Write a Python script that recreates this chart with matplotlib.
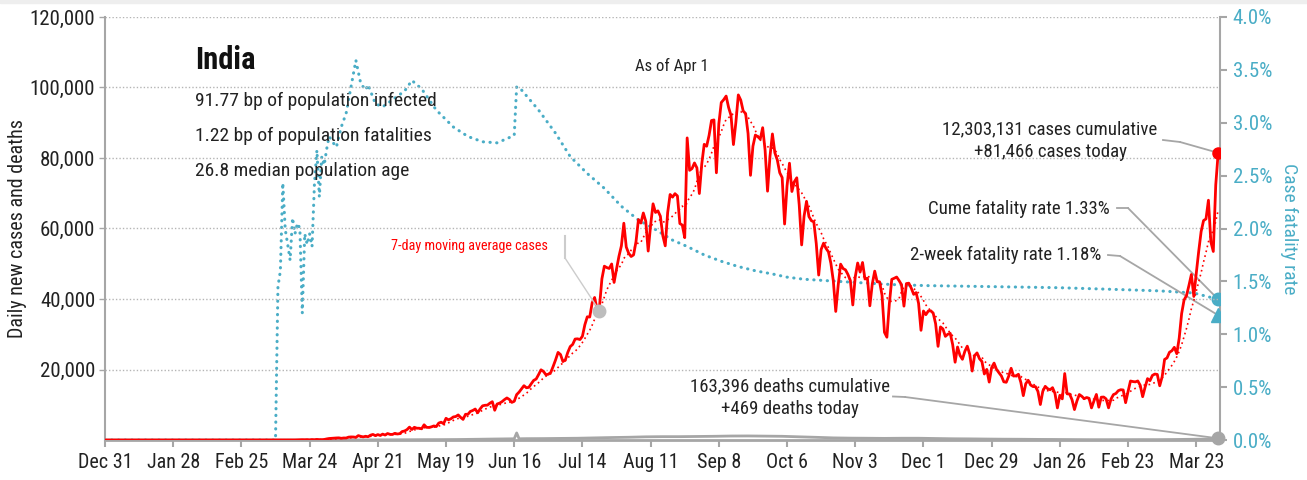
import matplotlib
matplotlib.use("Agg")
import matplotlib.pyplot as plt
from matplotlib.patches import Rectangle
from matplotlib import font_manager
import numpy as np
import pandas as pd

# pick the narrowest sans that is around
available = {f.name for f in font_manager.fontManager.ttflist}
families = [f for f in ['Roboto Condensed', 'Liberation Sans Narrow', 'DejaVu Sans Condensed',
                        'Open Sans Condensed', 'Roboto', 'DejaVu Sans'] if f in available]
plt.rcParams['font.family'] = families
plt.rcParams['font.stretch'] = 'condensed'

RED = '#ff0000'
TEAL = '#4aadc6'
GRAY = '#a6a6a6'
TXT = '#222222'

# daily new cases, India (one list per month, starting 2020-03-01)
cases_2020_03 = [0, 2, 1, 22, 2, 1, 3, 5, 4, 13, 6, 11, 9, 20, 11, 6, 23, 14, 38, 50, 86, 66, 103, 37,
                 121, 70, 160, 100, 82, 155, 306]
cases_2020_04 = [424, 486, 560, 579, 609, 484, 573, 565, 813, 871, 854, 758, 1243, 1031, 886, 1061, 922,
                 1371, 1580, 1239, 1537, 1292, 1667, 1408, 1835, 1607, 1568, 1902, 1705, 1801]
cases_2020_05 = [2396, 2564, 2952, 3656, 2971, 3602, 3344, 3339, 3175, 4311, 3592, 3562, 3726, 3991, 3808,
                 4794, 5050, 4628, 6154, 5720, 6023, 6536, 6667, 7111, 6414, 5843, 7293, 7300, 8105, 8380, 8789]
cases_2020_06 = [7723, 8812, 9689, 9849, 9887, 10438, 10864, 8442, 10218, 10459, 10885, 11458, 11929, 11502,
                 10667, 10974, 12881, 13586, 14516, 15413, 14821, 14933, 15968, 16922, 17296, 18552, 19906,
                 19459, 18522, 18653]
cases_2020_07 = [19148, 20903, 22771, 24850, 24248, 22252, 22752, 24879, 26506, 27114, 28637, 28701, 28498,
                 29429, 32695, 34956, 34884, 38902, 40425, 37148, 37724, 45720, 49310, 48916, 48661, 49931,
                 44700, 48513, 52123, 55079, 61500]
cases_2020_08 = [54735, 52972, 52050, 52509, 56282, 62538, 61537, 64399, 62064, 53601, 60963, 66999, 64553,
                 65002, 63490, 57981, 55079, 64531, 69652, 68898, 69878, 69239, 61408, 60975, 57400, 85700,
                 76500, 77000, 78600, 77200, 69921]
cases_2020_09 = [78357, 83883, 83341, 86432, 90632, 90802, 75809, 89706, 95735, 96551, 97570, 94372, 92071,
                 83809, 90123, 97894, 96424, 93337, 92605, 86961, 75083, 83347, 86508, 86052, 85362, 88600,
                 82170, 70589, 80472, 86821]
cases_2020_10 = [81484, 79476, 75829, 74442, 61267, 72049, 78524, 70496, 73272, 74383, 66732, 55342, 63509,
                 67708, 63371, 62212, 61871, 55722, 46790, 54044, 55839, 54366, 53370, 50129, 45148, 36469,
                 43893, 49881, 48648, 48268, 46963]
cases_2020_11 = [45231, 38310, 46253, 50210, 47638, 50357, 45674, 45903, 38073, 44281, 47905, 44879, 44878,
                 41100, 30548, 29164, 38617, 45576, 45882, 46232, 45209, 44059, 37975, 44376, 44489, 43082,
                 41322, 41810, 38772, 31118]
cases_2020_12 = [36604, 35551, 36595, 36652, 36011, 32981, 26567, 32080, 31522, 29398, 30006, 30254, 27071,
                 22065, 26382, 24010, 22890, 25152, 26624, 24337, 19556, 23950, 24712, 23067, 22273, 18732,
                 20021, 16432, 20550, 21822, 20035]
cases_2021_01 = [19079, 18177, 16505, 16375, 18088, 20346, 18139, 18222, 18645, 16311, 12584, 15968, 16946,
                 15590, 15158, 15144, 13788, 10064, 13823, 15223, 14545, 14256, 14849, 13203, 9102, 12689,
                 11666, 18855, 13083, 13052, 11427]
cases_2021_02 = [8635, 11039, 12899, 12408, 11713, 12059, 11831, 9110, 11067, 12923, 9309, 12143, 12194,
                 11649, 9121, 11610, 12881, 13193, 13993, 14264, 14199, 10584, 13742, 16738, 16577, 16488,
                 16752, 15510]
cases_2021_03 = [12286, 14989, 17407, 16838, 18327, 18711, 18599, 15388, 17921, 22854, 23285, 24882, 25320,
                 26291, 24492, 28903, 35871, 39726, 40953, 43846, 46951, 40715, 47262, 53476, 59118, 62258,
                 62714, 68020, 56211, 53480, 72330]
cases_2021_04 = [81466]

# daily deaths, sampled weekly from 2020-03-01, plus a few single days
deaths_weekly = [0, 0, 1, 3, 6,
                 15, 30, 40, 55,
                 75, 100, 110, 140, 200,
                 270, 330, 380, 400,
                 450, 500, 600, 700,
                 780, 900, 950, 950, 1000,
                 1050, 1130, 1150, 1100,
                 1050, 900, 760, 600,
                 530, 500, 460, 500, 500,
                 420, 350, 320, 270,
                 230, 210, 170, 150, 120,
                 95, 95, 100, 110,
                 105, 140, 200, 280]
deaths_extra_dates = ['2019-12-31', '2020-06-16', '2020-06-17', '2020-06-18', '2021-04-01']
deaths_extra = [0, 350, 2003, 350, 469]

# case fatality rate (%)
cfr_dates = ['2019-12-31', '2020-03-10', '2020-03-11', '2020-03-12', '2020-03-13', '2020-03-14',
             '2020-03-15', '2020-03-16', '2020-03-17', '2020-03-18', '2020-03-19', '2020-03-20',
             '2020-03-21', '2020-03-22', '2020-03-23', '2020-03-24', '2020-03-25', '2020-03-26',
             '2020-03-27', '2020-03-28', '2020-03-29', '2020-03-30', '2020-03-31', '2020-04-01',
             '2020-04-03', '2020-04-04', '2020-04-06', '2020-04-08', '2020-04-10', '2020-04-12',
             '2020-04-14', '2020-04-16', '2020-04-17', '2020-04-20', '2020-04-23', '2020-04-26',
             '2020-04-29', '2020-05-02', '2020-05-05', '2020-05-09', '2020-05-15', '2020-05-22',
             '2020-05-28', '2020-06-03', '2020-06-09', '2020-06-16', '2020-06-17', '2020-06-19',
             '2020-06-26', '2020-07-03', '2020-07-09', '2020-07-16', '2020-07-23', '2020-07-30',
             '2020-08-06', '2020-08-13', '2020-08-20', '2020-08-26', '2020-09-02', '2020-09-09',
             '2020-09-16', '2020-09-23', '2020-09-30', '2020-10-06', '2020-10-13', '2020-10-20',
             '2020-10-27', '2020-11-03', '2020-11-18', '2020-12-02', '2020-12-30', '2021-01-26',
             '2021-02-23', '2021-03-08', '2021-03-22', '2021-04-01']
cfr_values = [0, 0, 1.45, 1.6, 2.43, 1.99, 1.85, 1.70, 2.1, 1.95, 2.05, 2.0,
              1.2, 1.95, 1.85, 1.95, 1.83, 2.43, 2.74, 2.3, 2.68, 2.6, 2.75, 2.87,
              2.8, 2.77, 2.96, 3.09, 3.34, 3.59, 3.37, 3.31, 3.36, 3.18, 3.15, 3.2,
              3.25, 3.3, 3.40, 3.32, 3.12, 2.96, 2.87, 2.82, 2.81, 2.88, 3.34, 3.31,
              3.12, 2.90, 2.68, 2.52, 2.38, 2.21, 2.08, 1.99, 1.89, 1.83, 1.75, 1.69,
              1.64, 1.60, 1.57, 1.54, 1.52, 1.51, 1.50, 1.49, 1.47, 1.46, 1.45, 1.44,
              1.42, 1.41, 1.39, 1.33]

cfr_cume_today = 1.33
cfr_2week = 1.18
cases_cum = 12303131
deaths_cum = 163396

tick_labels = ['Dec 31', 'Jan 28', 'Feb 25', 'Mar 24', 'Apr 21', 'May 19', 'Jun 16', 'Jul 14',
               'Aug 11', 'Sep 8', 'Oct 6', 'Nov 3', 'Dec 1', 'Dec 29', 'Jan 26', 'Feb 23', 'Mar 23']

# ---- build series ----
all_cases = (cases_2020_03 + cases_2020_04 + cases_2020_05 + cases_2020_06 + cases_2020_07 +
             cases_2020_08 + cases_2020_09 + cases_2020_10 + cases_2020_11 + cases_2020_12 +
             cases_2021_01 + cases_2021_02 + cases_2021_03 + cases_2021_04)
cases = pd.Series(all_cases, index=pd.date_range('2020-03-01', periods=len(all_cases), freq='D'))
full_idx = pd.date_range('2019-12-31', cases.index[-1], freq='D')
cases = cases.reindex(full_idx, fill_value=0)
ma7 = cases.rolling(7, min_periods=1).mean()

deaths = pd.concat([
    pd.Series(deaths_weekly, index=pd.date_range('2020-03-01', periods=len(deaths_weekly), freq='7D')),
    pd.Series(deaths_extra, index=pd.to_datetime(deaths_extra_dates)),
]).sort_index()

cfr = pd.Series(cfr_values, index=pd.to_datetime(cfr_dates))
last = cases.index[-1]

# ---- figure ----
fig = plt.figure(figsize=(13.07, 4.80), dpi=100)
fig.patches.append(Rectangle((0, 1 - 3 / 480), 1, 3 / 480, transform=fig.transFigure,
                             color='#eeeeee', zorder=0))
ax = fig.add_axes([105 / 1307, 40 / 480, 1115 / 1307, 423 / 480])
ax2 = ax.twinx()
ax.set_zorder(ax2.get_zorder() + 1)
ax.patch.set_visible(False)

# fatality rate on the right axis
ax2.plot(cfr.index, cfr.values / 100, color=TEAL, lw=2.2, linestyle=(0, (0.1, 2.1)),
         dash_capstyle='round', zorder=2)
ax2.plot([last], [cfr_cume_today / 100], 'o', color=TEAL, ms=9, zorder=4)
ax2.plot([last], [cfr_2week / 100], '^', color=TEAL, ms=10, zorder=4)

# cases and deaths on the left axis
ax.plot(deaths.index, deaths.values, color=GRAY, lw=2, zorder=2)
ax.plot(cases.index, cases.values, color=RED, lw=2, zorder=3)
ax.plot(ma7.index, ma7.values, color=RED, lw=1.2, linestyle=(0, (1, 2)), zorder=3)
ax.plot([last], [cases.iloc[-1]], 'o', color=RED, ms=8, zorder=5)
ax.plot([last], [deaths.iloc[-1]], 'o', color=GRAY, ms=9, zorder=5, clip_on=False)

x0 = pd.Timestamp('2019-12-31')
ax.set_xlim(x0, last + pd.Timedelta(hours=18))
ax.set_ylim(0, 120000)
ax2.set_ylim(0, 0.04)

ticks = pd.date_range(x0, periods=len(tick_labels), freq='28D')
ax.set_xticks(ticks)
ax.set_xticklabels(tick_labels)
ax.set_yticks(np.arange(20000, 120001, 20000))
ax.yaxis.set_major_formatter(matplotlib.ticker.FuncFormatter(lambda v, p: f'{v:,.0f}'))
ax2.set_yticks(np.arange(0, 0.0401, 0.005))
ax2.yaxis.set_major_formatter(matplotlib.ticker.FuncFormatter(lambda v, p: f'{v * 100:.1f}%'))

ax.grid(axis='y', color='#b5b5b5', linestyle=(0, (1, 1.5)), lw=1)
for a in (ax, ax2):
    for s in a.spines.values():
        s.set_visible(False)
ax.spines['left'].set_visible(True)
ax.spines['left'].set_color(GRAY)
ax.spines['left'].set_linewidth(1.5)
ax.spines['bottom'].set_visible(True)
ax.spines['bottom'].set_color(GRAY)
ax.spines['bottom'].set_linewidth(2)
ax2.spines['right'].set_visible(True)
ax2.spines['right'].set_color(GRAY)
ax2.spines['right'].set_linewidth(1.5)

ax.tick_params(axis='x', colors=GRAY, labelcolor=TXT, labelsize=14.5, length=5, width=1.5, pad=4)
ax.tick_params(axis='y', colors=GRAY, labelcolor=TXT, labelsize=15, length=4, width=1, pad=3)
ax2.tick_params(axis='y', colors=GRAY, labelcolor=TEAL, labelsize=15, length=5, width=1.5, pad=4)

ax.set_ylabel('Daily new cases and deaths', fontsize=14.5, color=TXT, labelpad=2)
ax2.set_ylabel('Case fatality rate', fontsize=14, color=TEAL, rotation=270, va='bottom', labelpad=6)


def fx(px):
    return (px - 105) / 1115


def fy(py):
    return (440 - py) / 423


# header block
ax.text(fx(195), fy(60), 'India', transform=ax.transAxes, fontsize=22, fontweight='semibold',
        color='#111111', va='center', ha='left')
ax.text(fx(195), fy(101), '91.77 bp of population infected', transform=ax.transAxes, fontsize=14,
        color=TXT, va='center')
ax.text(fx(195), fy(136), '1.22 bp of population fatalities', transform=ax.transAxes, fontsize=14,
        color=TXT, va='center')
ax.text(fx(195), fy(171), '26.8 median population age', transform=ax.transAxes, fontsize=14,
        color=TXT, va='center')
ax.text(fx(672), fy(66), 'As of Apr 1', transform=ax.transAxes, fontsize=12, color=TXT,
        ha='center', va='center')

# 7-day average label and leader
ma_day = pd.Timestamp('2020-07-21')
ax.text(fx(548), fy(246), '7-day moving average cases', transform=ax.transAxes, fontsize=10.2,
        color=RED, ha='right', va='center')
ax.plot([fx(565), fx(565)], [fy(236), fy(258)], color='#cccccc', lw=1.5, transform=ax.transAxes)
ax.annotate('', xy=(ma_day, ma7[ma_day]), xytext=(fx(565), fy(258)), textcoords='axes fraction',
            arrowprops=dict(arrowstyle='-', color='#cccccc', lw=1, shrinkA=0, shrinkB=0))
ax.plot([ma_day], [ma7[ma_day]], 'o', color='#bdbdbd', ms=9, zorder=4)

lead = dict(arrowstyle='-', color=GRAY, lw=1.3, shrinkA=0, shrinkB=0)

# cumulative cases
ax.text(fx(1050), fy(140.5), f'{cases_cum:,} cases cumulative\n+{cases.iloc[-1]:,} cases today',
        transform=ax.transAxes, fontsize=13.6, color=TXT, ha='center', va='center', linespacing=1.3)
ax.plot([fx(1163), fx(1180)], [fy(140), fy(142)], color=GRAY, lw=1.3, transform=ax.transAxes)
ax.annotate('', xy=(last, cases.iloc[-1]), xytext=(fx(1180), fy(142)), textcoords='axes fraction',
            arrowprops=lead)

# fatality rates
ax.text(fx(1110), fy(209), f'Cume fatality rate {cfr_cume_today:.2f}%', transform=ax.transAxes,
        fontsize=13.6, color=TXT, ha='right', va='center')
ax.plot([fx(1117), fx(1128)], [fy(208), fy(208)], color=GRAY, lw=1.3, transform=ax.transAxes)
ax2.annotate('', xy=(last, cfr_cume_today / 100), xytext=(fx(1128), fy(208)), textcoords='axes fraction',
             arrowprops=lead)
ax.text(fx(1101), fy(255), f'2-week fatality rate {cfr_2week:.2f}%', transform=ax.transAxes,
        fontsize=13.6, color=TXT, ha='right', va='center')
ax.plot([fx(1108), fx(1120)], [fy(255), fy(256)], color=GRAY, lw=1.3, transform=ax.transAxes)
ax2.annotate('', xy=(last, cfr_2week / 100), xytext=(fx(1120), fy(256)), textcoords='axes fraction',
             arrowprops=lead)

# cumulative deaths
ax.text(fx(790), fy(397.5), f'{deaths_cum:,} deaths cumulative\n+{deaths.iloc[-1]:,} deaths today',
        transform=ax.transAxes, fontsize=13.6, color=TXT, ha='center', va='center', linespacing=1.3)
ax.plot([fx(893), fx(905)], [fy(396.5), fy(397)], color=GRAY, lw=1.3, transform=ax.transAxes)
ax.annotate('', xy=(last, deaths.iloc[-1]), xytext=(fx(905), fy(397)), textcoords='axes fraction',
            arrowprops=lead, annotation_clip=False)

fig.savefig('out.png', dpi=100, facecolor='white')
